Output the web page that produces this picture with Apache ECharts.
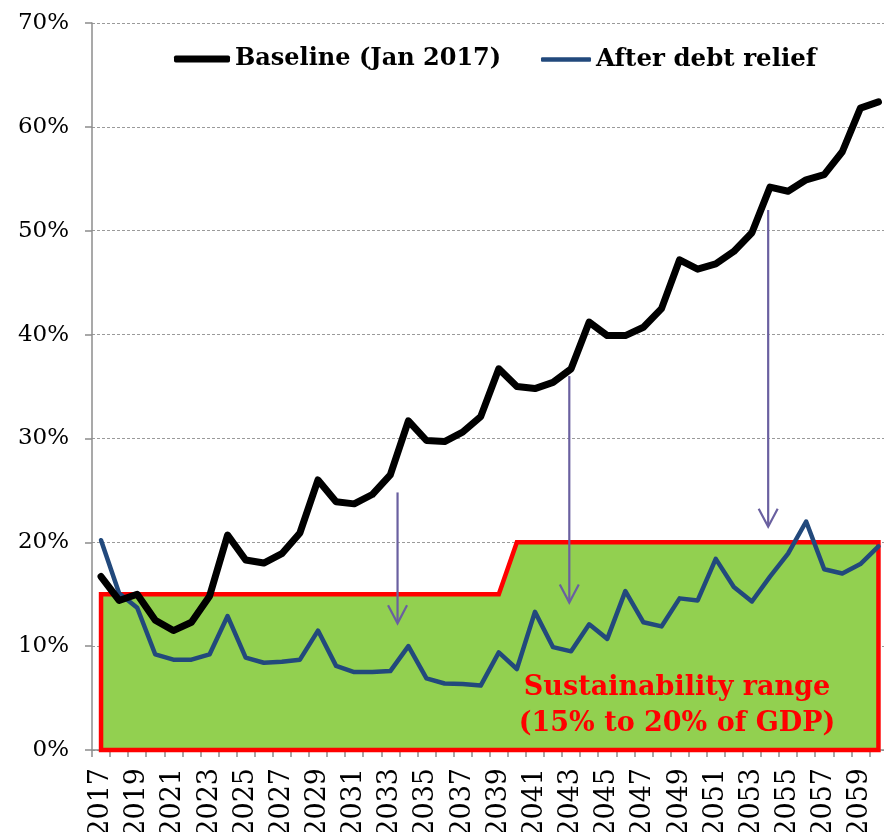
<!DOCTYPE html>
<html>
<head>
<meta charset="utf-8">
<script src="https://cdn.jsdelivr.net/npm/echarts@6/dist/echarts.min.js"></script>
<style>
  html, body { margin: 0; padding: 0; background: #ffffff; }
  #chart { width: 884px; height: 832px; }
</style>
</head>
<body>
<div id="chart"></div>
<script>
// Gross financing needs, % of GDP
const years = [
  '2017','2018','2019','2020','2021','2022','2023','2024','2025','2026','2027',
  '2028','2029','2030','2031','2032','2033','2034','2035','2036','2037','2038',
  '2039','2040','2041','2042','2043','2044','2045','2046','2047','2048','2049',
  '2050','2051','2052','2053','2054','2055','2056','2057','2058','2059','2060'
];

const baseline = [
  16.7, 14.4, 15.0, 12.5, 11.5, 12.3, 14.8, 20.7, 18.3, 18.0, 18.9,
  20.9, 26.0, 23.9, 23.7, 24.6, 26.5, 31.7, 29.8, 29.7, 30.6, 32.1,
  36.7, 35.0, 34.8, 35.4, 36.7, 41.2, 39.9, 39.9, 40.7, 42.5, 47.2,
  46.3, 46.8, 48.0, 49.8, 54.2, 53.8, 54.9, 55.4, 57.6, 61.8, 62.4
];

const afterRelief = [
  20.2, 15.1, 13.7, 9.2, 8.7, 8.7, 9.2, 12.9, 8.9, 8.4, 8.5,
  8.7, 11.5, 8.1, 7.5, 7.5, 7.6, 10.0, 6.9, 6.4, 6.35, 6.2,
  9.4, 7.8, 13.3, 9.9, 9.5, 12.1, 10.7, 15.3, 12.3, 11.9, 14.6,
  14.4, 18.4, 15.7, 14.3, 16.7, 18.9, 22.0, 17.4, 17.0, 17.9, 19.6
];

// Upper edge of the sustainability range
const sustainTop = [
  15, 15, 15, 15, 15, 15, 15, 15, 15, 15, 15,
  15, 15, 15, 15, 15, 15, 15, 15, 15, 15, 15,
  15, 20, 20, 20, 20, 20, 20, 20, 20, 20, 20,
  20, 20, 20, 20, 20, 20, 20, 20, 20, 20, 20
];

const yTicks = [0, 10, 20, 30, 40, 50, 60, 70];

// Downward arrows: year position (fractional), start and end level in %
const arrowYear = [2033.4, 2042.9, 2053.9];
const arrowFrom = [24.8, 36.0, 52.0];
const arrowTo = [12.2, 14.2, 21.5];

const SERIF = "'DejaVu Serif', 'Liberation Serif', serif";
const firstYear = Number(years[0]);

function yearPoint(api, year, pct) {
  const base = Math.floor(year);
  const frac = year - base;
  const p = api.coord([base - firstYear, pct]);
  const band = api.size([1, 0])[0];
  return [p[0] + frac * band, p[1]];
}

const chart = echarts.init(document.getElementById('chart'), null, { renderer: 'canvas' });

chart.setOption({
  animation: false,
  backgroundColor: '#ffffff',
  grid: { left: 92, top: 23, width: 795.5, height: 727, containLabel: false, outerBoundsMode: 'none' },
  legend: [
    {
      data: [{ name: 'Baseline (Jan 2017)', icon: 'roundRect' }],
      left: 169, top: 42,
      itemWidth: 56, itemHeight: 7, itemGap: 0,
      textStyle: { fontFamily: SERIF, fontWeight: 'bold', fontSize: 24, color: '#000' }
    },
    {
      data: [{ name: 'After debt relief', icon: 'roundRect' }],
      left: 536, top: 42,
      itemWidth: 50, itemHeight: 4.5, itemGap: 0,
      textStyle: { fontFamily: SERIF, fontWeight: 'bold', fontSize: 24.5, color: '#000' }
    }
  ],
  xAxis: {
    type: 'category',
    data: years,
    boundaryGap: true,
    axisLine: { show: true, lineStyle: { color: '#8c8c8c', width: 1.5 } },
    axisTick: { show: true, interval: 0, length: 7, lineStyle: { color: '#8c8c8c', width: 1.5 } },
    axisLabel: {
      interval: 1, rotate: 90, margin: 18,
      fontFamily: SERIF, fontSize: 27, color: '#000'
    },
    splitLine: { show: false }
  },
  yAxis: {
    type: 'value',
    min: yTicks[0], max: yTicks[yTicks.length - 1], interval: yTicks[1] - yTicks[0],
    axisLine: { show: true, lineStyle: { color: '#8c8c8c', width: 1.5 } },
    axisTick: { show: true, length: 7, lineStyle: { color: '#8c8c8c', width: 1.5 } },
    axisLabel: {
      formatter: '{value}%', margin: 23,
      fontFamily: SERIF, fontSize: 23, color: '#000'
    },
    splitLine: { show: true, lineStyle: { color: '#9a9a9a', width: 1, type: [3, 2] } }
  },
  series: [
    {
      name: 'Sustainability range',
      type: 'custom',
      z: 1,
      silent: true,
      data: sustainTop.map((v, i) => [i, v]),
      renderItem: function (params, api) {
        if (params.dataIndex !== 0) return null;
        const pts = [api.coord([0, 0])];
        for (let i = 0; i < sustainTop.length; i++) pts.push(api.coord([i, sustainTop[i]]));
        pts.push(api.coord([sustainTop.length - 1, 0]));
        return {
          type: 'polygon',
          shape: { points: pts },
          style: { fill: '#92D050', stroke: '#FF0000', lineWidth: 4.5, lineJoin: 'miter' }
        };
      }
    },
    {
      name: 'After debt relief',
      type: 'line',
      z: 3,
      data: afterRelief,
      symbol: 'none',
      color: '#22497C',
      lineStyle: { color: '#22497C', width: 4.5, cap: 'round', join: 'round' }
    },
    {
      name: 'Baseline (Jan 2017)',
      type: 'line',
      z: 4,
      data: baseline,
      symbol: 'none',
      color: '#000000',
      lineStyle: { color: '#000000', width: 7, cap: 'round', join: 'round' }
    },
    {
      name: 'arrows',
      type: 'custom',
      z: 5,
      silent: true,
      data: arrowYear.map((y, i) => [Math.floor(y) - firstYear, arrowTo[i]]),
      renderItem: function (params, api) {
        const i = params.dataIndex;
        const top = yearPoint(api, arrowYear[i], arrowFrom[i]);
        const tip = yearPoint(api, arrowYear[i], arrowTo[i]);
        const st = { stroke: '#6A60A0', lineWidth: 2.2, fill: null, lineCap: 'butt', lineJoin: 'miter' };
        return {
          type: 'group',
          children: [
            { type: 'line', shape: { x1: top[0], y1: top[1], x2: tip[0], y2: tip[1] - 1 }, style: st },
            {
              type: 'polyline',
              shape: { points: [[tip[0] - 9.5, tip[1] - 18], [tip[0], tip[1]], [tip[0] + 9.5, tip[1] - 18]] },
              style: st
            }
          ]
        };
      }
    }
  ],
  graphic: [
    {
      type: 'text',
      x: 677, y: 706,
      z: 10,
      style: {
        text: 'Sustainability range\n(15% to 20% of GDP)',
        fill: '#FF0000',
        font: 'bold 27px ' + SERIF,
        lineHeight: 36,
        align: 'center',
        verticalAlign: 'middle'
      }
    }
  ]
});
</script>
</body>
</html>
